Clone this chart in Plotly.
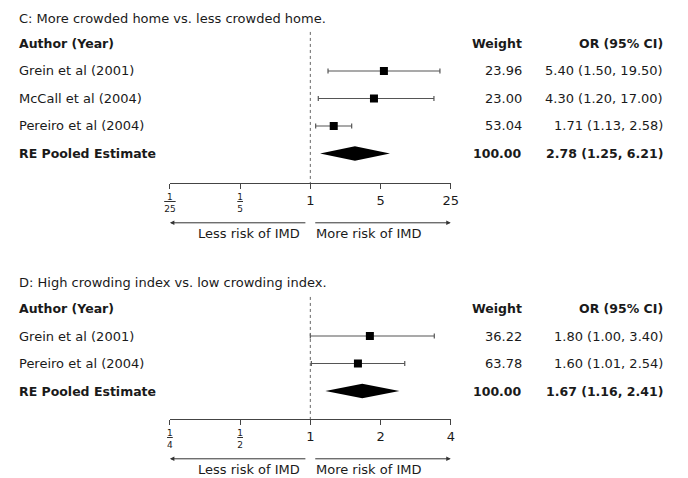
import math
import plotly.graph_objects as go

# ---------------- data ----------------
c_title = "C: More crowded home vs. less crowded home."
c_studies = ["Grein et al (2001)", "McCall et al (2004)", "Pereiro et al (2004)"]
c_or = [5.40, 4.30, 1.71]
c_lo = [1.50, 1.20, 1.13]
c_hi = [19.50, 17.00, 2.58]
c_weight = [23.96, 23.00, 53.04]
c_pooled = [2.78, 1.25, 6.21]          # estimate, lower, upper
c_ticks = [1 / 25, 1 / 5, 1, 5, 25]

d_title = "D: High crowding index vs. low crowding index."
d_studies = ["Grein et al (2001)", "Pereiro et al (2004)"]
d_or = [1.80, 1.60]
d_lo = [1.00, 1.01]
d_hi = [3.40, 2.54]
d_weight = [36.22, 63.78]
d_pooled = [1.67, 1.16, 2.41]
d_ticks = [1 / 4, 1 / 2, 1, 2, 4]

header_labels = ["Author (Year)", "Weight", "OR (95% CI)"]
pooled_label = "RE Pooled Estimate"
less_label = "Less risk of IMD"
more_label = "More risk of IMD"

# ---------------- geometry (pixels) ----------------
W, H = 688, 478
FONT = "DejaVu Sans"
TXT = "#1a1a1a"
ROW = 27.5
X_LEFT_PX, X_RIGHT_PX = 167.3, 454.0
TEXT_X_PX = 12
WEIGHT_X_PX = 528
OR_X_PX = 672

panels = [
    dict(title=c_title, studies=c_studies, est=c_or, lo=c_lo, hi=c_hi, w=c_weight,
         pooled=c_pooled, ticks=c_ticks, header_px=43.5, axis_px=183.3, title_px=18,
         xa="x", ya="y", xo="x3"),
    dict(title=d_title, studies=d_studies, est=d_or, lo=d_lo, hi=d_hi, w=d_weight,
         pooled=d_pooled, ticks=d_ticks, header_px=308.5, axis_px=419.3, title_px=282.5,
         xa="x2", ya="y2", xo="x4"),
]


def lay_name(ax):
    return ax[0] + "axis" + ax[1:]


fig = go.Figure()
annotations = []
layout_axes = {}

for p in panels:
    n = len(p["studies"])
    top_i = -0.6
    axis_i = (p["axis_px"] - p["header_px"]) / ROW
    xr = [math.log10(min(p["ticks"])), math.log10(max(p["ticks"]))]
    px_per_log = (X_RIGHT_PX - X_LEFT_PX) / (xr[1] - xr[0])
    ydom = [1 - p["axis_px"] / H, 1 - (p["header_px"] + top_i * ROW) / H]

    main_text = [str(int(v)) if v >= 1 else "" for v in p["ticks"]]
    frac_vals = [v for v in p["ticks"] if v < 1]
    frac_text = []
    for v in frac_vals:
        den = str(round(1 / v))
        pad = "\u00a0" * (len(den) - 1)
        frac_text.append(f"<u>{pad}1{pad}</u><br>{den}")

    layout_axes[lay_name(p["xa"])] = dict(
        type="log", range=xr, domain=[X_LEFT_PX / W, X_RIGHT_PX / W], anchor=p["ya"],
        tickvals=p["ticks"], ticktext=main_text, tickfont=dict(family=FONT, size=13, color=TXT),
        ticks="outside", ticklen=5, tickwidth=1, tickcolor="#444",
        showline=True, linecolor="#444", linewidth=1, showgrid=False, zeroline=False,
        fixedrange=True)
    layout_axes[lay_name(p["xo"])] = dict(
        type="log", range=xr, overlaying=p["xa"], anchor=p["ya"], side="bottom",
        tickvals=frac_vals, ticktext=frac_text, tickfont=dict(family=FONT, size=9, color=TXT),
        ticks="outside", ticklen=5, tickcolor="rgba(0,0,0,0)",
        showline=False, showgrid=False, zeroline=False, fixedrange=True)
    layout_axes[lay_name(p["ya"])] = dict(
        range=[axis_i, top_i], domain=ydom, anchor=p["xa"], visible=False, fixedrange=True)

    rows = list(range(1, n + 1))
    pooled_row = n + 1

    # reference line at OR = 1
    fig.add_trace(go.Scatter(
        x=[1, 1], y=[-0.42, axis_i], mode="lines", xaxis=p["xo"], yaxis=p["ya"],
        line=dict(color="#666", width=1, dash="3px,3px"), hoverinfo="skip", showlegend=False))

    # study estimates with CIs
    fig.add_trace(go.Scatter(
        x=p["est"], y=rows, mode="markers", xaxis=p["xa"], yaxis=p["ya"],
        marker=dict(symbol="square", size=8, color="black"),
        error_x=dict(type="data", symmetric=False,
                     array=[h - e for h, e in zip(p["hi"], p["est"])],
                     arrayminus=[e - l for e, l in zip(p["est"], p["lo"])],
                     color="#555", thickness=1.2, width=2.5),
        showlegend=False, hoverinfo="skip"))

    # pooled diamond
    pe, pl, ph = p["pooled"]
    fig.add_trace(go.Scatter(
        x=[pl, pe, ph, pe, pl], y=[pooled_row, pooled_row - 0.26, pooled_row,
                                   pooled_row + 0.26, pooled_row],
        mode="lines", fill="toself", fillcolor="black", line=dict(width=0, color="black"),
        xaxis=p["xa"], yaxis=p["ya"], showlegend=False, hoverinfo="skip"))

    # text columns
    def add_text(txt, xpx, row, anchor, size=13, bold=False):
        annotations.append(dict(
            text=f"<b>{txt}</b>" if bold else txt, x=xpx / W, xref="paper",
            y=row, yref=p["ya"], xanchor=anchor, yanchor="middle", showarrow=False,
            borderpad=0, font=dict(family=FONT, size=size, color=TXT)))

    annotations.append(dict(
        text=p["title"], x=TEXT_X_PX / W, xref="paper", y=1 - p["title_px"] / H, yref="paper",
        xanchor="left", yanchor="middle", showarrow=False, borderpad=0,
        font=dict(family=FONT, size=13, color=TXT)))

    add_text(header_labels[0], TEXT_X_PX, 0, "left", 12.5, True)
    add_text(header_labels[1], WEIGHT_X_PX, 0, "right", 12.5, True)
    add_text(header_labels[2], OR_X_PX, 0, "right", 12.5, True)
    for r, s, w, e, l, h in zip(rows, p["studies"], p["w"], p["est"], p["lo"], p["hi"]):
        add_text(s, TEXT_X_PX, r, "left")
        add_text(f"{w:.2f}", WEIGHT_X_PX, r, "right")
        add_text(f"{e:.2f} ({l:.2f}, {h:.2f})", OR_X_PX, r, "right")
    add_text(pooled_label, TEXT_X_PX, pooled_row, "left", 12.5, True)
    add_text(f"{sum(p['w']):.2f}", WEIGHT_X_PX, pooled_row, "right", 12.5, True)
    add_text(f"{pe:.2f} ({pl:.2f}, {ph:.2f})", OR_X_PX, pooled_row, "right", 12.5, True)

    # direction arrows (y in paper coords, below the axis)
    arrow_y = 1 - (p["axis_px"] + 39.5) / H
    label_y = 1 - (p["axis_px"] + 50.5) / H
    gap = 3.5 / px_per_log
    for head, tail in [(xr[0], -gap), (xr[1], gap)]:
        annotations.append(dict(
            text="", x=head, y=arrow_y, ax=tail, ay=0, xref=p["xa"], yref="paper",
            axref=p["xa"], ayref="pixel", showarrow=True, arrowhead=2, arrowsize=0.9,
            arrowwidth=1, arrowcolor="#333", standoff=0, startstandoff=0))
    annotations.append(dict(
        text=less_label, x=0, y=label_y, xref=p["xa"], yref="paper", xanchor="right",
        yanchor="middle", xshift=-9, showarrow=False, borderpad=0,
        font=dict(family=FONT, size=13, color=TXT)))
    annotations.append(dict(
        text=more_label, x=0, y=label_y, xref=p["xa"], yref="paper", xanchor="left",
        yanchor="middle", xshift=5, showarrow=False, borderpad=0,
        font=dict(family=FONT, size=13, color=TXT)))

fig.update_layout(
    width=W, height=H, margin=dict(l=0, r=0, t=0, b=0),
    paper_bgcolor="white", plot_bgcolor="white", showlegend=False,
    annotations=annotations, **layout_axes)

fig.write_html("out.html", config={"displayModeBar": False},
               post_script="document.body.style.margin='0px';"
                           "document.body.style.overflow='hidden';")
